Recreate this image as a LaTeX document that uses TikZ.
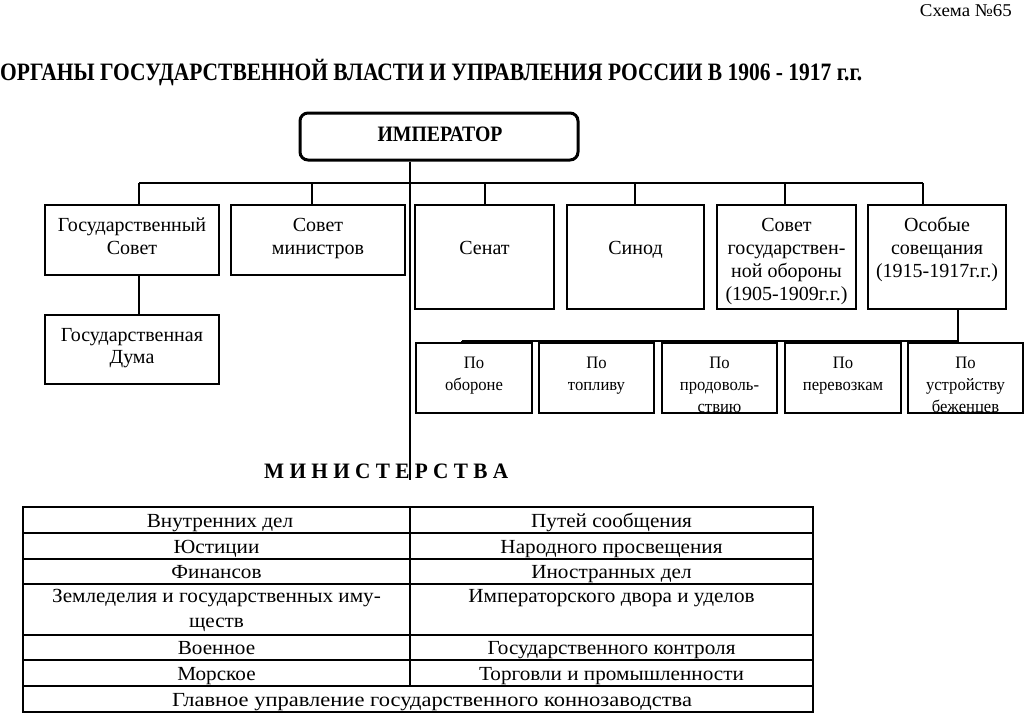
\documentclass[tikz,border=0pt]{standalone}
\usepackage{fontspec}
\usepackage{graphicx}
\setmainfont{Liberation Serif}
\newfontfamily\boxff{Liberation Serif}[FakeStretch=1.0]
\newfontfamily\subff{Liberation Serif}[FakeStretch=0.95]
\newfontfamily\tabff{Liberation Serif}[FakeStretch=1.06]
\newfontfamily\hdff{Liberation Serif}[FakeStretch=1.05]
\newcommand\mlines[1]{\begin{tabular}[t]{@{}c@{}}#1\end{tabular}}
\begin{document}
\begin{tikzpicture}[x=1pt,y=-1pt,
  bigbox/.style={draw,line width=2.4pt,inner sep=0pt},
  subbox/.style={draw,line width=2.4pt,inner sep=0pt,minimum height=70pt},
  conn/.style={line width=1.5pt},
  btxt/.style={anchor=base,inner sep=0pt,font=\boxff\fontsize{20}{23}\selectfont},
  stxt/.style={anchor=base,inner sep=0pt,font=\subff\fontsize{17.5}{22}\selectfont},
  ttxt/.style={anchor=base,inner sep=0pt,font=\tabff\fontsize{20}{25}\selectfont},
  tline/.style={line width=1.2pt}]
\useasboundingbox (0,0) rectangle (1024,713);
\fill[white] (0,0) rectangle (1024,713);

% header
\node[anchor=base east,inner sep=0pt,font=\hdff\fontsize{18}{20}\selectfont] (schema) at (1012,16) {Схема №65};
\node[anchor=base west,inner sep=0pt] (title) at (0,80)
  {\resizebox{862pt}{\height}{\fontsize{25}{30}\selectfont\bfseries ОРГАНЫ ГОСУДАРСТВЕННОЙ ВЛАСТИ И УПРАВЛЕНИЯ РОССИИ В 1906 - 1917 г.г.}};

% emperor
\node[draw,line width=3pt,rounded corners=8pt,minimum width=278pt,minimum height=47pt,inner sep=0pt] (emp) at (439,136.5) {};
\node[anchor=base,inner sep=0pt] (empT) at (440,141) {\resizebox{125pt}{\height}{\fontsize{22}{26}\selectfont\bfseries ИМПЕРАТОР}};

% first row boxes
\node[bigbox,minimum width=174pt,minimum height=70pt] (gs) at (132,240) {};
\node[bigbox,minimum width=174pt,minimum height=70pt] (sm) at (318,240) {};
\node[bigbox,minimum width=139pt,minimum height=104pt] (sen) at (484.5,257) {};
\node[bigbox,minimum width=137pt,minimum height=104pt] (sin) at (635.5,257) {};
\node[bigbox,minimum width=139pt,minimum height=104pt] (sgo) at (786.5,257) {};
\node[bigbox,minimum width=138pt,minimum height=104pt] (os) at (937,257) {};
\node[bigbox,minimum width=174pt,minimum height=69pt] (duma) at (132,349.5) {};

\node[btxt] (gsT) at (132,231) {\mlines{Государственный\\Совет}};
\node[btxt] (smT) at (318,231) {\mlines{Совет\\министров}};
\node[btxt] (senT) at (484.5,254) {Сенат};
\node[btxt] (sinT) at (635.5,254) {Синод};
\node[btxt] (sgoT) at (786.5,231) {\mlines{Совет\\государствен-\\ной обороны\\(1905-1909г.г.)}};
\node[btxt] (osT) at (937,231) {\mlines{Особые\\совещания\\(1915-1917г.г.)}};
\node[btxt,font=\boxff\fontsize{20}{22}\selectfont] (dumaT) at (132,341) {\mlines{Государственная\\Дума}};

% connectors of the first level
\coordinate (mEnd) at (410,480);
\draw[conn] (emp.south -| mEnd) -- (mEnd);
\coordinate (busL) at (139,183);
\coordinate (busR) at (923,183);
\draw[conn] (busL) -- (busR);
\coordinate (d2) at (312,183);
\coordinate (d3) at (485,183);
\coordinate (d4) at (635,183);
\coordinate (d5) at (785,183);
\draw[conn] (busL) -- (busL |- gs.north);
\draw[conn] (d2) -- (d2 |- sm.north);
\draw[conn] (d3) -- (d3 |- sen.north);
\draw[conn] (d4) -- (d4 |- sin.north);
\draw[conn] (d5) -- (d5 |- sgo.north);
\draw[conn] (busR) -- (busR |- os.north);
\draw[conn] (gs.south -| busL) -- (duma.north -| busL);

% special councils
\coordinate (sbL) at (462,341);
\coordinate (sbR) at (958,341);
\draw[conn] (os.south -| sbR) -- (sbR);
\draw[conn] (sbL) -- (sbR);

\begin{scope}
  \clip (416,343) rectangle (532,412);
  \node[stxt] (s1T) at (474,368) {\mlines{По\\обороне}};
\end{scope}
\begin{scope}
  \clip (539,343) rectangle (654,412);
  \node[stxt] (s2T) at (596.5,368) {\mlines{По\\топливу}};
\end{scope}
\begin{scope}
  \clip (662,343) rectangle (777,412);
  \node[stxt] (s3T) at (719.5,368) {\mlines{По\\продоволь-\\ствию}};
\end{scope}
\begin{scope}
  \clip (785,343) rectangle (901,412);
  \node[stxt] (s4T) at (843,368) {\mlines{По\\перевозкам}};
\end{scope}
\begin{scope}
  \clip (908,343) rectangle (1023,412);
  \node[stxt] (s5T) at (965.5,368) {\mlines{По\\устройству\\беженцев}};
\end{scope}
\node[subbox,minimum width=116pt] (s1) at (474,378) {};
\node[subbox,minimum width=115pt] (s2) at (596.5,378) {};
\node[subbox,minimum width=115pt] (s3) at (719.5,378) {};
\node[subbox,minimum width=116pt] (s4) at (843,378) {};
\node[subbox,minimum width=115pt] (s5) at (965.5,378) {};
\draw[conn] (sbL) -- (sbL |- s1.north);
\coordinate (e2) at (589,341);
\coordinate (e3) at (717,341);
\coordinate (e4) at (843,341);
\draw[conn] (e2) -- (e2 |- s2.north);
\draw[conn] (e3) -- (e3 |- s3.north);
\draw[conn] (e4) -- (e4 |- s4.north);
\draw[conn] (sbR) -- (sbR |- s5.north);

% ministries heading
\node[anchor=base west,inner sep=0pt] (minT) at (264,478)
  {\resizebox{244pt}{\height}{\fontsize{22}{26}\selectfont\bfseries М И Н И С Т Е Р С Т В А}};

% table
\draw[tline] (23,507) rectangle (813,712);
\foreach \yy in {533,559,584,635,660,686} \draw[tline] (23,\yy) -- (813,\yy);
\draw[tline] (410,507) -- (410,686);

\node[ttxt] (t1a) at (220,527) {Внутренних дел};
\node[ttxt] (t1b) at (611.5,527) {Путей сообщения};
\node[ttxt] (t2a) at (216.5,553) {Юстиции};
\node[ttxt] (t2b) at (611.5,553) {Народного просвещения};
\node[ttxt] (t3a) at (216.5,578) {Финансов};
\node[ttxt] (t3b) at (611.5,578) {Иностранных дел};
\node[ttxt] (t4a) at (216.5,602) {\mlines{Земледелия и государственных иму-\\ществ}};
\node[ttxt] (t4b) at (611.5,602) {Императорского двора и уделов};
\node[ttxt] (t5a) at (216.5,654) {Военное};
\node[ttxt] (t5b) at (611.5,654) {Государственного контроля};
\node[ttxt] (t6a) at (216.5,680) {Морское};
\node[ttxt] (t6b) at (611.5,680) {Торговли и промышленности};
\node[ttxt] (t7) at (432,706) {\resizebox{520pt}{\height}{Главное управление государственного коннозаводства}};
\end{tikzpicture}
\end{document}
